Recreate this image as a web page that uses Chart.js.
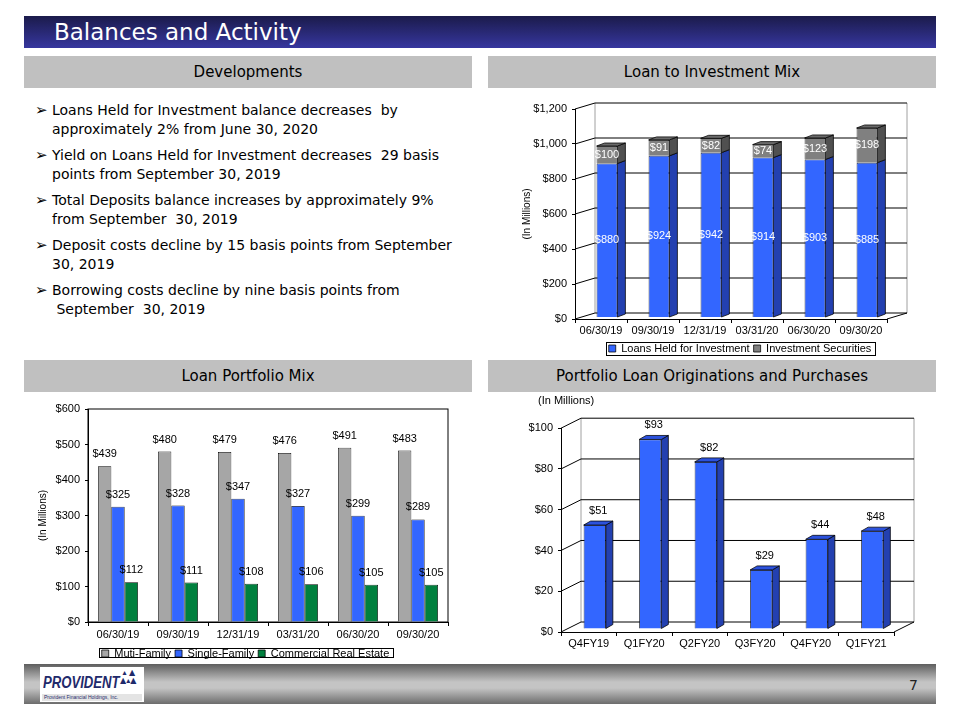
<!DOCTYPE html>
<html>
<head>
<meta charset="utf-8">
<script src="https://cdn.jsdelivr.net/npm/chart.js@4/dist/chart.umd.min.js"></script>
<style>
  body { margin: 0; width: 960px; height: 720px; position: relative; background: #fff; overflow: hidden; }
  .abs { position: absolute; }
  #titlebar { left: 24px; top: 16px; width: 912px; height: 32px;
    background: linear-gradient(#1b1b4b, #36369e); }
  #titlebar span { position: absolute; left: 30px; top: 2px; color: #fff;
    font: 23px/28px "DejaVu Sans", sans-serif; }
  .hdr { height: 32px; background: #c0c0c0; text-align: center;
    font: 15px/32px "DejaVu Sans", sans-serif; color: #000; }
  #dev { left: 35px; top: 101px; font: 14px/19px "DejaVu Sans", sans-serif; color: #000; }
  #dev p { margin: 0 0 7px; padding-left: 17px; position: relative; white-space: nowrap; }
  #dev .ar { position: absolute; left: 0; top: 0; font-size: 15px; }
  canvas { position: absolute; }
  #footer { left: 24px; top: 664px; width: 912px; height: 40px;
    background: linear-gradient(#5e5e5e 0%, #c4c4c4 45%, #c4c4c4 60%, #6c6c6c 100%); }
  #logo { left: 16px; top: 3px; width: 104px; height: 35px; background: #fff; overflow: hidden; }
  #logo .pv { position: absolute; left: 3px; top: 8px; color: #1f2a6b; white-space: nowrap;
    font: italic bold 16px/16px "Liberation Sans", Arial; transform: scaleX(0.82); transform-origin: 0 0; }
  #logo .tri { position: absolute; left: 80px; top: 2px; color: #1f2a6b; font: 8px/8px "DejaVu Sans"; width: 24px; }
  #logo .pfh { position: absolute; left: 2px; top: 27px; width: 98px; height: 7px; background: #e4e4e4;
    color: #1f2a6b; font: 5px/7px "Liberation Sans", Arial; padding-left: 2px; white-space: nowrap; }
  #pg { left: 909px; top: 677px; color: #222; font: 14px "DejaVu Sans", sans-serif; }
</style>
</head>
<body>
<div id="titlebar" class="abs"><span>Balances and Activity</span></div>
<div class="hdr abs" style="left:24px;top:56px;width:448px">Developments</div>
<div class="hdr abs" style="left:488px;top:56px;width:448px">Loan to Investment Mix</div>
<div class="hdr abs" style="left:24px;top:360px;width:448px">Loan Portfolio Mix</div>
<div class="hdr abs" style="left:488px;top:360px;width:448px">Portfolio Loan Originations and Purchases</div>

<div id="dev" class="abs">
  <p><span class="ar">➢</span>Loans Held for Investment balance decreases&nbsp; by<br>approximately 2% from June 30, 2020</p>
  <p><span class="ar">➢</span>Yield on Loans Held for Investment decreases&nbsp; 29 basis<br>points from September 30, 2019</p>
  <p><span class="ar">➢</span>Total Deposits balance increases by approximately 9%<br>from September&nbsp; 30, 2019</p>
  <p><span class="ar">➢</span>Deposit costs decline by 15 basis points from September<br>30, 2019</p>
  <p><span class="ar">➢</span>Borrowing costs decline by nine basis points from<br>&nbsp;September&nbsp; 30, 2019</p>
</div>

<canvas id="mix" width="448" height="272" style="left:488px;top:95px"></canvas>
<canvas id="portfolio" width="452" height="280" style="left:20px;top:392px"></canvas>
<canvas id="orig" width="448" height="268" style="left:488px;top:392px"></canvas>

<div id="footer" class="abs">
  <div id="logo" class="abs">
    <div class="pv">PROVIDENT</div>
    <div class="tri">&nbsp;▴&nbsp;▲<br>▲▴▲</div>
    <div class="pfh">Provident Financial Holdings, Inc.</div>
  </div>
</div>
<div id="pg" class="abs">7</div>

<script>
// balances, in millions
const mixDates = ['06/30/19', '09/30/19', '12/31/19', '03/31/20', '06/30/20', '09/30/20'];
const loansHeld = [880, 924, 942, 914, 903, 885];
const investSec = [100, 91, 82, 74, 123, 198];
const mixAxis = [0, 1200, 200]; // min, max, step

const portDates = ['06/30/19', '09/30/19', '12/31/19', '03/31/20', '06/30/20', '09/30/20'];
const multiFamily = [439, 480, 479, 476, 491, 483];
const singleFamily = [325, 328, 347, 327, 299, 289];
const commercialRE = [112, 111, 108, 106, 105, 105];
const portAxis = [0, 600, 100];

const origQuarters = ['Q4FY19', 'Q1FY20', 'Q2FY20', 'Q3FY20', 'Q4FY20', 'Q1FY21'];
const originations = [51, 93, 82, 29, 44, 48];
const origAxis = [0, 100, 20];

Chart.defaults.font.family = '"Liberation Sans", Arial, sans-serif';
Chart.defaults.font.size = 11;
Chart.defaults.color = '#000';
Chart.defaults.animation = false;
Chart.defaults.responsive = false;
Chart.defaults.plugins.tooltip.enabled = false;

const dollars = v => '$' + v.toLocaleString('en-US');

function line(ctx, x1, y1, x2, y2) {
  ctx.beginPath();
  ctx.moveTo(x1, y1);
  ctx.lineTo(x2, y2);
  ctx.stroke();
}

// fake the old excel 3d look: back wall, bar sides and tops
const excel3d = {
  id: 'excel3d',
  afterDatasetsUpdate(chart, args, o) {
    if (!o.shift) return;
    chart.data.datasets.forEach((ds, i) => {
      chart.getDatasetMeta(i).data.forEach(el => {
        el.x += o.shift[0];
        el.y += o.shift[1];
        el.base += o.shift[1];
      });
    });
  },
  beforeDatasetsDraw(chart, args, o) {
    const {ctx, chartArea: a, scales: {y}} = chart;
    ctx.save();
    ctx.lineWidth = 1;
    if (o.frame) {
      ctx.strokeStyle = '#000';
      ctx.strokeRect(a.left, a.top, a.right - a.left, a.bottom - a.top);
    }
    if (o.wall) {
      const [dx, dy] = o.wall;
      ctx.strokeStyle = '#a0a0a0';
      line(ctx, a.left + dx, a.top + dy, a.left + dx, a.bottom + dy);
      line(ctx, a.right + dx, a.top + dy, a.right + dx, a.bottom + dy);
      ctx.strokeStyle = '#000';
      line(ctx, a.right, a.bottom, a.right + dx, a.bottom + dy);
      y.ticks.forEach(t => {
        const py = y.getPixelForValue(t.value);
        line(ctx, a.left, py, a.left + dx, py + dy);
        line(ctx, a.left + dx, py + dy, a.right + dx, py + dy);
      });
    }
    ctx.restore();
  },
  afterDatasetsDraw(chart, args, o) {
    if (!o.depth) return;
    const {ctx} = chart;
    const [dx, dy] = o.depth;
    const last = chart.data.datasets.length - 1;
    const poly = (pts, fill) => {
      ctx.beginPath();
      pts.forEach((p, k) => k ? ctx.lineTo(p[0], p[1]) : ctx.moveTo(p[0], p[1]));
      ctx.closePath();
      ctx.fillStyle = fill;
      ctx.fill();
      ctx.stroke();
    };
    ctx.save();
    ctx.strokeStyle = '#000';
    ctx.lineWidth = 0.75;
    chart.data.datasets.forEach((ds, i) => {
      chart.getDatasetMeta(i).data.forEach(el => {
        const l = el.x - el.width / 2, r = el.x + el.width / 2;
        poly([[r, el.y], [r + dx, el.y + dy], [r + dx, el.base + dy], [r, el.base]], ds.sideColor);
        if (i === last) poly([[l, el.y], [l + dx, el.y + dy], [r + dx, el.y + dy], [r, el.y]], ds.topColor);
      });
    });
    ctx.restore();
  }
};

const valueLabels = {
  id: 'valueLabels',
  afterDatasetsDraw(chart, args, o) {
    const {ctx} = chart;
    ctx.save();
    ctx.font = '11px "Liberation Sans", Arial, sans-serif';
    ctx.textAlign = 'center';
    ctx.textBaseline = 'middle';
    ctx.fillStyle = o.color || '#000';
    chart.data.datasets.forEach((ds, i) => {
      chart.getDatasetMeta(i).data.forEach((el, j) => {
        const x = el.x + (o.dx || 0);
        const y = o.pos === 'center' ? (el.y + el.base) / 2 : el.y + (o.dy || 0);
        ctx.fillText(dollars(ds.data[j]), x, y);
      });
    });
    ctx.restore();
  }
};

// box round the legend like the excel one; also nudges legend / title sideways
const legendFrame = {
  id: 'legendFrame',
  afterLayout(chart, args, o) {
    if (chart.legend && o.shift) {
      chart.legend.left += o.shift;
      chart.legend.right += o.shift;
    }
    if (chart.titleBlock && o.titleShift) {
      chart.titleBlock.left += o.titleShift;
      chart.titleBlock.right += o.titleShift;
    }
  },
  afterDraw(chart, args, o) {
    const boxes = chart.legend && chart.legend.options.display && chart.legend.legendHitBoxes;
    if (!boxes || !boxes.length) return;
    const l = Math.min(...boxes.map(b => b.left)) - 3;
    const r = Math.max(...boxes.map(b => b.left + b.width)) + 3;
    const top = boxes[0].top + (o.y0 || 0);
    const {ctx} = chart;
    ctx.save();
    ctx.strokeStyle = '#000';
    ctx.lineWidth = 1;
    ctx.strokeRect(Math.round(l) + 0.5, Math.round(top) + 0.5, Math.round(r - l), o.h || 13);
    ctx.restore();
  }
};

const legendOpts = {
  position: 'bottom',
  labels: { boxWidth: 7, boxHeight: 7, padding: 4, font: { size: 11 }, color: '#000' }
};

function yAxis(range, width, title) {
  return {
    min: range[0], max: range[1],
    ticks: { stepSize: range[2], padding: 5, callback: dollars },
    grid: { drawOnChartArea: false, tickLength: 3, color: '#000' },
    border: { color: '#000' },
    title: title ? { display: true, text: title, font: { size: 10 }, padding: 0 } : { display: false },
    afterFit: s => { s.width = width; }
  };
}

function xAxis(height, pad) {
  return {
    grid: { drawOnChartArea: false, tickLength: 4, color: '#000' },
    border: { color: '#000' },
    ticks: { padding: pad, maxRotation: 0 },
    afterFit: s => { s.height = height; }
  };
}

// Loan to Investment Mix
const mixX = xAxis(20, 1.5);
mixX.stacked = true;
const mixY = yAxis(mixAxis, 54, '(In Millions)');
mixY.stacked = true;
new Chart(document.getElementById('mix'), {
  type: 'bar',
  data: {
    labels: mixDates,
    datasets: [
      { label: 'Loans Held for Investment', data: loansHeld, backgroundColor: '#3366ff',
        borderColor: '#000', borderWidth: 0.75, barPercentage: 0.5, categoryPercentage: 0.8,
        sideColor: '#2340b0', topColor: '#2c52dc' },
      { label: 'Investment Securities', data: investSec, backgroundColor: '#808080',
        borderColor: '#000', borderWidth: 0.75, barPercentage: 0.5, categoryPercentage: 0.8,
        sideColor: '#505050', topColor: '#6a6a6a' }
    ]
  },
  options: {
    layout: { padding: { left: 33, right: 49, top: 14, bottom: 3 } },
    scales: { x: mixX, y: mixY },
    plugins: {
      legend: legendOpts,
      excel3d: { wall: [20, -6], depth: [8, -3], shift: [6, -1.5] },
      valueLabels: { pos: 'center', color: '#fff' },
      legendFrame: { shift: 36, y0: -1, h: 13 }
    }
  },
  plugins: [excel3d, valueLabels, legendFrame]
});

// Loan Portfolio Mix
new Chart(document.getElementById('portfolio'), {
  type: 'bar',
  data: {
    labels: portDates,
    datasets: [
      { label: 'Muti-Family', data: multiFamily, backgroundColor: '#a6a6a6' },
      { label: 'Single-Family', data: singleFamily, backgroundColor: '#3366ff' },
      { label: 'Commercial Real Estate', data: commercialRE, backgroundColor: '#00803e' }
    ].map(d => Object.assign(d, { borderColor: '#000', borderWidth: 0.75, barPercentage: 1, categoryPercentage: 0.667 }))
  },
  options: {
    layout: { padding: { left: 17, right: 24, top: 17, bottom: 3 } },
    scales: { x: xAxis(22, 2), y: yAxis(portAxis, 51, '(In Millions)') },
    plugins: {
      legend: legendOpts,
      excel3d: { frame: true },
      valueLabels: { pos: 'top', dy: -12 },
      legendFrame: { shift: 3, y0: 0, h: 9 }
    }
  },
  plugins: [excel3d, valueLabels, legendFrame]
});

// Portfolio Loan Originations and Purchases
new Chart(document.getElementById('orig'), {
  type: 'bar',
  data: {
    labels: origQuarters,
    datasets: [
      { label: 'Originations', data: originations, backgroundColor: '#3366ff',
        borderColor: '#000', borderWidth: 0.75, barPercentage: 0.5, categoryPercentage: 0.8,
        sideColor: '#2340b0', topColor: '#2c52dc' }
    ]
  },
  options: {
    layout: { padding: { left: 13, right: 42, top: 0, bottom: 0 } },
    scales: { x: xAxis(28, 1), y: yAxis(origAxis, 60) },
    plugins: {
      legend: { display: false },
      title: { display: true, text: '(In Millions)', align: 'start', font: { size: 11, weight: 'normal' },
        color: '#000', padding: { top: 2, bottom: 21 } },
      excel3d: { wall: [20, -10], depth: [7, -4], shift: [6, -3] },
      valueLabels: { pos: 'top', dx: 3.5, dy: -14 },
      legendFrame: { titleShift: 37 }
    }
  },
  plugins: [excel3d, valueLabels, legendFrame]
});
</script>
</body>
</html>
